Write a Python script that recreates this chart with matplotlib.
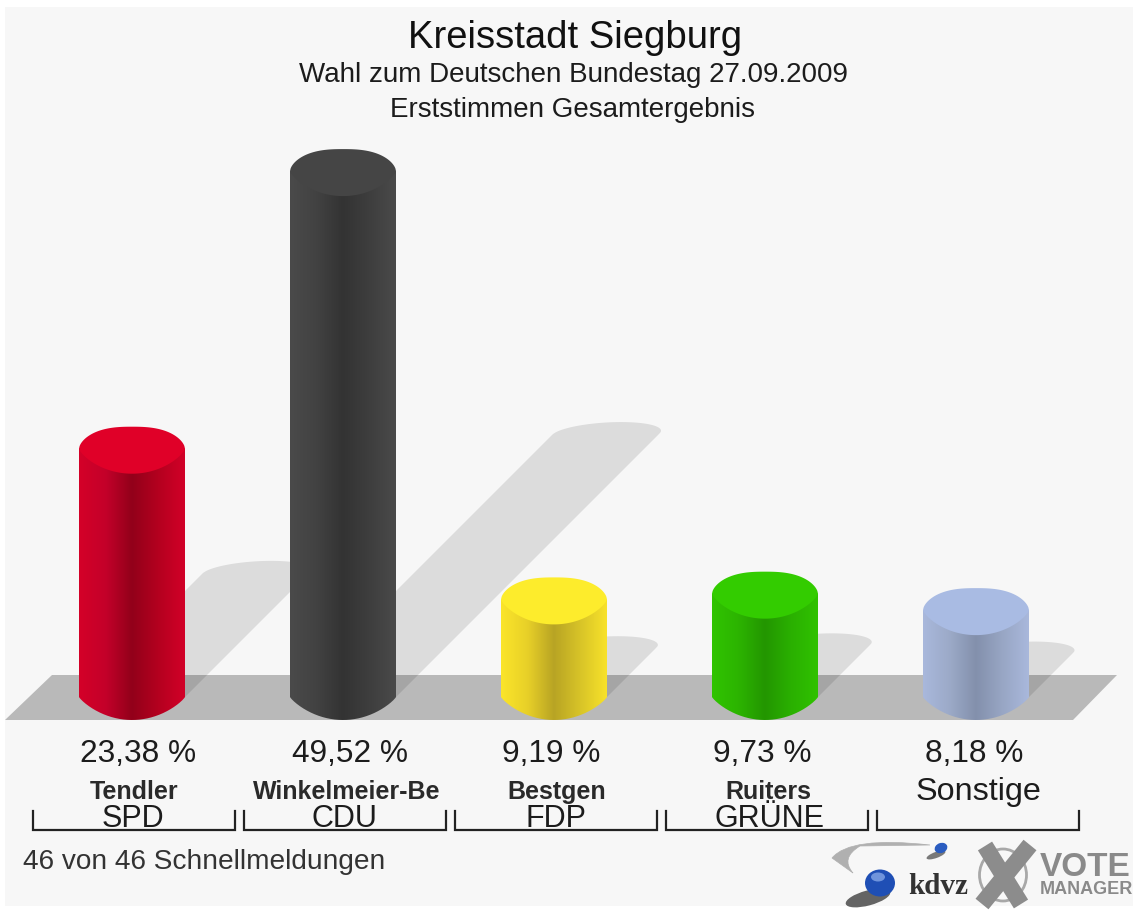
import numpy as np
import matplotlib
matplotlib.use("Agg")
import matplotlib.pyplot as plt
from matplotlib.colors import LinearSegmentedColormap
from matplotlib.patches import Ellipse, PathPatch, Polygon, Rectangle
from matplotlib.path import Path

plt.rcParams['font.family'] = ['Liberation Sans', 'DejaVu Sans']

# Chart data
candidates = ['Tendler', 'Winkelmeier-Be', 'Bestgen', 'Ruiters', 'Sonstige']
parties = ['SPD', 'CDU', 'FDP', 'GRÜNE', '']
percent = [23.38, 49.52, 9.19, 9.73, 8.18]
percent_labels = ['23,38 %', '49,52 %', '9,19 %', '9,73 %', '8,18 %']
body_colors = [
    ['#d40028', '#c4002a', '#92001a', '#b4001f', '#d20028'],
    ['#4a4a4a', '#424242', '#333333', '#3e3e3e', '#4a4a4a'],
    ['#fbe52a', '#e8d028', '#b8a424', '#d8c428', '#f8e22a'],
    ['#30c400', '#2cb400', '#239600', '#2ab000', '#30c200'],
    ['#a9b8dc', '#9caac8', '#8390ac', '#98a6c4', '#a9b8dc'],
]
top_colors = ['#e00028', '#454545', '#fdec2c', '#33cc00', '#a9bbe3']

# label centres, px (they do not sit exactly under the bars)
percent_x = [138.5, 350, 551.5, 762.5, 974.5]
candidate_x = [134.5, 346.5, 556.5, 768, 978]
party_x = [133, 344.5, 556, 769, 976]

W, H = 1133, 911
BASE_Y = 697       # pixel row of 0 %
PX_PER_PCT = 10.62
FIRST_X = 132      # pixel column of the first bar
STEP_X = 211
HALF_W = 53        # cylinder half width, px

fig = plt.figure(figsize=(W / 100, H / 100), dpi=100, facecolor='white')

# pixel axes for backdrop, texts and logos
ax_px = fig.add_axes([0, 0, 1, 1], zorder=0)
ax_px.set_xlim(0, W)
ax_px.set_ylim(H, 0)
ax_px.axis('off')

# data axes: x is the bar index, y is percent
ax = fig.add_axes([0, 0, 1, 1], zorder=1)
ax.axis('off')
ax.patch.set_alpha(0)

# backdrop and floor
ax_px.add_patch(Rectangle((5, 7), W - 5, 899, fc='#f7f7f7', ec='none'))
ax_px.add_patch(Polygon([(5, 720), (52, 675), (1117, 675), (1073, 720)],
                        fc='#b9b9b9', ec='none'))

hw = HALF_W / STEP_X
u = np.linspace(-1, 1, 161)

# shadows lie on the wall at 45 degrees behind the bars
for i, p in enumerate(percent):
    rise = p * PX_PER_PCT / 2
    cx = i + rise / STEP_X
    dome = np.sqrt(1 - u ** 2)
    xs = cx + hw * u + 15 / STEP_X * dome
    ys = p / 2 + 12 / PX_PER_PCT * dome
    top = np.column_stack([xs, ys])[::-1]
    pts = np.vstack([[[i + hw, 0]], top, [[i - hw, 0]]])
    ax.add_patch(Polygon(pts, fc='black', alpha=0.105, ec='none', zorder=1))

# cylinders
for i, p in enumerate(percent):
    cmap = LinearSegmentedColormap.from_list('c' + str(i), body_colors[i])
    grad = np.linspace(0, 1, 256).reshape(1, -1)
    im = ax.imshow(grad, cmap=cmap, extent=[i - hw, i + hw, -23 / PX_PER_PCT, p], aspect='auto',
                   zorder=2, interpolation='bilinear')
    xs = i + hw * u
    low = -(23 / PX_PER_PCT) * (1 - u ** 2) ** 0.85
    pts = np.vstack([[[i - hw, p]], np.column_stack([xs, low]), [[i + hw, p]], [[i - hw, p]]])
    clip = PathPatch(Path(pts), transform=ax.transData, fc='none', ec='none')
    ax.add_patch(clip)
    im.set_clip_path(clip)
    upper = p + (22 / PX_PER_PCT) * (1 - np.abs(u) ** 2.6) ** 0.6
    lower = p - (25 / PX_PER_PCT) * (1 - u ** 2) ** 0.75
    cap = np.vstack([np.column_stack([xs, upper]), np.column_stack([xs, lower])[::-1]])
    ax.add_patch(Polygon(cap, fc=top_colors[i], ec='none', zorder=3))

# imshow changes the limits, so set them last
ax.set_xlim((0 - FIRST_X) / STEP_X, (W - FIRST_X) / STEP_X)
ax.set_ylim((BASE_Y - H) / PX_PER_PCT, BASE_Y / PX_PER_PCT)

# titles
TEXT = '#1c1c1c'
ax_px.text(575, 38, 'Kreisstadt Siegburg', fontsize=27.5, color='#111111', ha='center', va='center')
ax_px.text(573.5, 75, 'Wahl zum Deutschen Bundestag 27.09.2009', fontsize=20, color=TEXT,
           ha='center', va='center')
ax_px.text(572, 110, 'Erststimmen Gesamtergebnis', fontsize=20, color=TEXT, ha='center', va='center')

# labels below the bars
for i in range(len(percent)):
    ax_px.text(percent_x[i], 754, percent_labels[i], fontsize=22.8, color=TEXT, ha='center', va='center')
    if candidates[i] == 'Sonstige':
        ax_px.text(candidate_x[i], 792, candidates[i], fontsize=23.3, color=TEXT, ha='center', va='center')
    else:
        ax_px.text(candidate_x[i], 792, candidates[i], fontsize=18, color='#2a2a2a', ha='center', va='center',
                   fontweight='bold')
    ax_px.text(party_x[i], 819, parties[i], fontsize=22, color=TEXT, ha='center', va='center')
    left = 33 + STEP_X * i
    ax_px.plot([left, left, left + 202, left + 202], [811, 830, 830, 811],
               color='#222222', lw=1.6, solid_joinstyle='miter')

ax_px.text(23, 862, '46 von 46 Schnellmeldungen', fontsize=20.2, color='#333333', ha='left', va='center')

# kdvz logo
swoosh = Path([(930, 845), (850, 836), (832, 858), (853, 873), (840, 858), (860, 846), (930, 845)],
              [Path.MOVETO, Path.CURVE3, Path.CURVE3, Path.LINETO, Path.CURVE3, Path.CURVE3, Path.CLOSEPOLY])
ax_px.add_patch(PathPatch(swoosh, fc='#b0b0b0', ec='#b0b0b0', lw=0.5))
ax_px.add_patch(Ellipse((936, 855), 20, 6, angle=-20, fc='#444444', ec='none', alpha=0.7))
ax_px.add_patch(Ellipse((941, 848), 13, 10, angle=-20, fc='#2a5cc0', ec='none'))
ax_px.add_patch(Ellipse((868, 898), 46, 15, angle=-15, fc='#333333', ec='none', alpha=0.75))
ax_px.add_patch(Ellipse((880, 883), 30, 27, fc='#1f4fb5', ec='none'))
ax_px.add_patch(Ellipse((878, 877), 14, 9, fc='#6f94dc', ec='none'))
ax_px.text(938, 886, 'kdvz', fontsize=21, color='#333333', fontfamily=['Liberation Serif'],
           fontweight='bold', ha='center', va='center')

# vote manager logo
ax_px.add_patch(Ellipse((1003, 875), 47, 52, fc='none', ec='#a8a8a8', lw=2))
ax_px.plot([985, 1021], [846, 904], color='#8c8c8c', lw=12, solid_capstyle='butt')
ax_px.plot([1030, 982], [845, 904], color='#8c8c8c', lw=12, solid_capstyle='butt')
ax_px.text(1085, 867, 'VOTE', fontsize=24, color='#8a8a8a', fontweight='bold', ha='center', va='center')
ax_px.text(1086, 890, 'MANAGER', fontsize=13, color='#8a8a8a', fontweight='bold', ha='center', va='center')

fig.savefig('out.png', dpi=100, facecolor='white')
